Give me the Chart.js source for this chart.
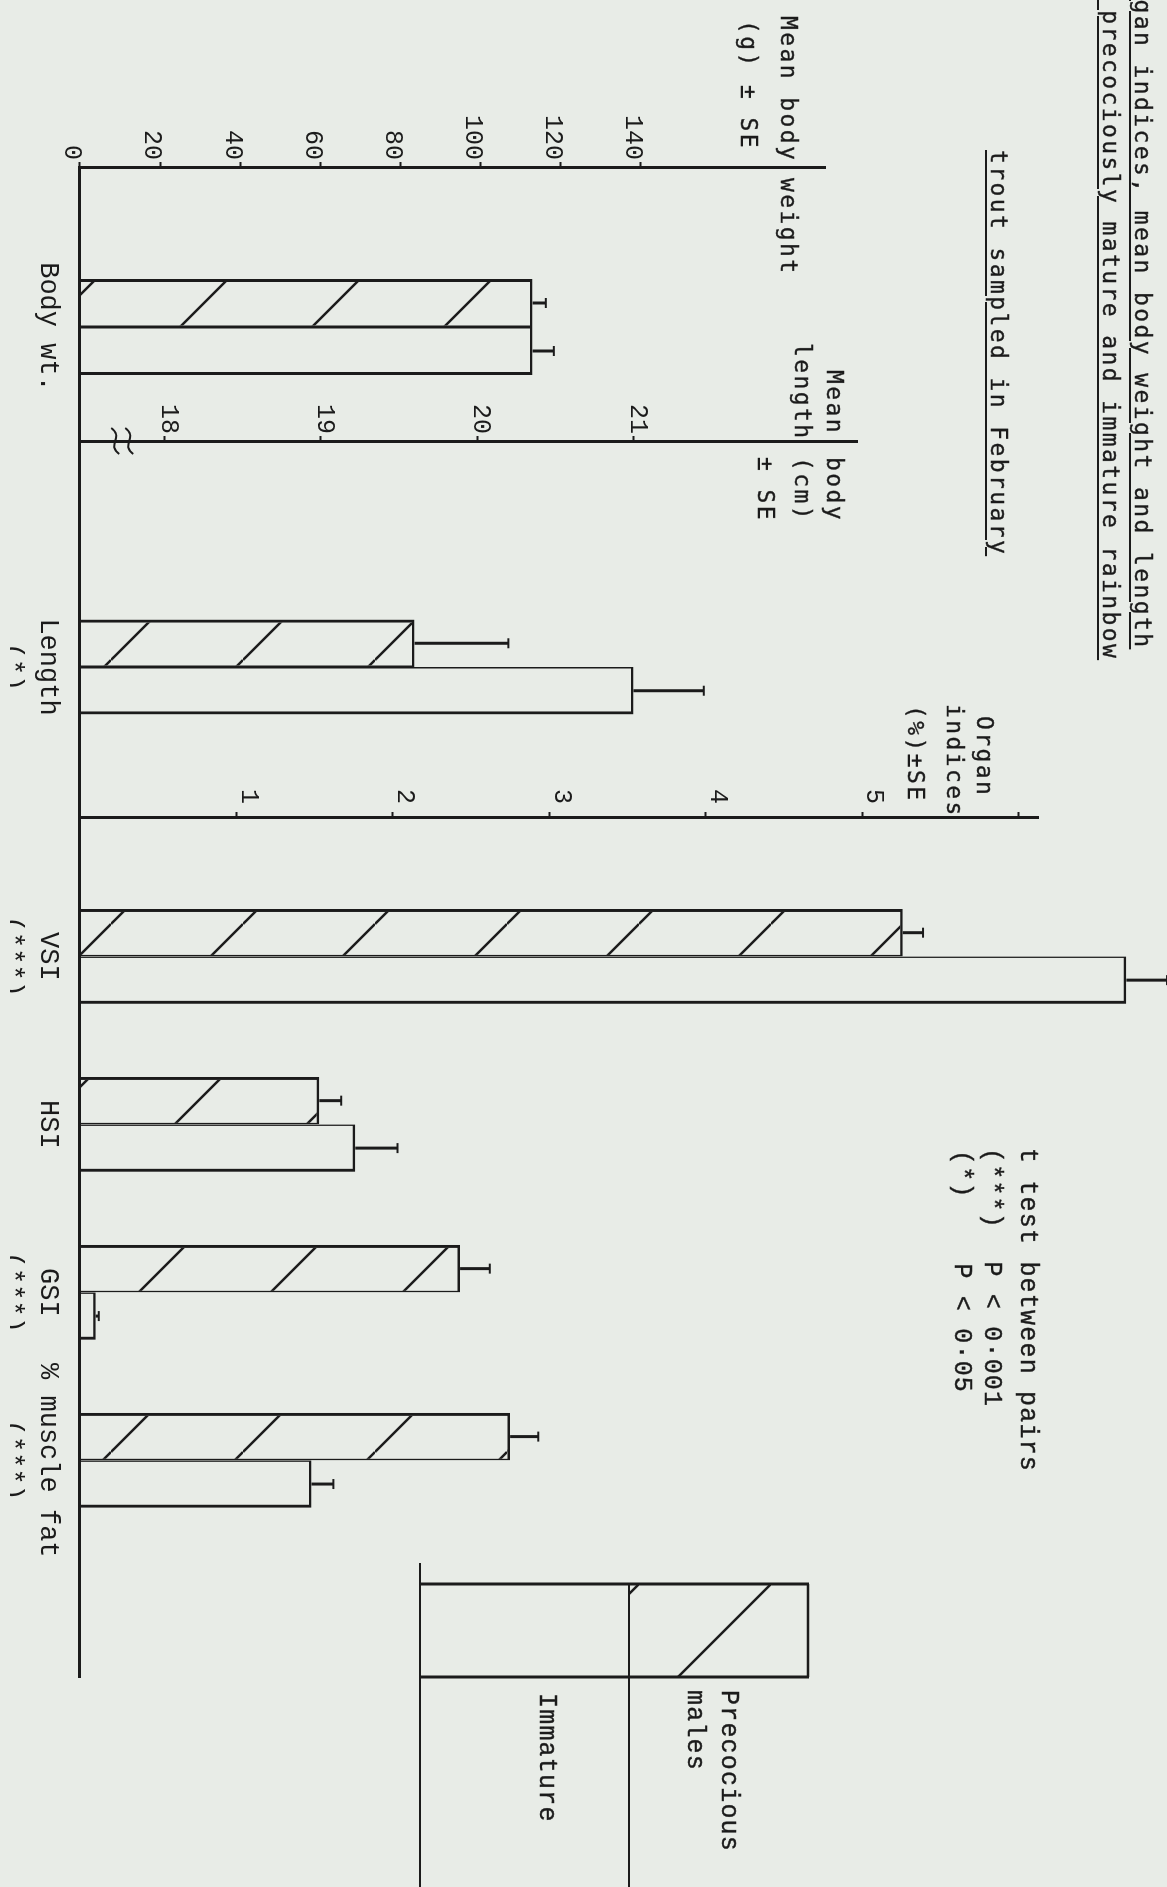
<!DOCTYPE html>
<html>
<head>
<meta charset="utf-8">
<script src="https://cdn.jsdelivr.net/npm/chart.js@4.4.1/dist/chart.umd.min.js"></script>
<style>
  html, body { margin: 0; background: #e8ece7; }
  #page { position: relative; width: 1167px; height: 1887px; overflow: hidden; background: #e8ece7; }
  /* the figure is typed sideways: build it upright, then turn it a quarter clockwise */
  #sheet { position: absolute; left: 0; top: 0; width: 1887px; height: 1167px;
           transform-origin: 0 0; transform: translate(1167px, 0) rotate(90deg); }
  #sheet canvas { position: absolute; left: 0; top: 0; }
  .t { position: absolute; white-space: pre; color: #1b1b1b; line-height: 30px; height: 30px; }
  .sans { font: 23px "DejaVu Sans Mono", monospace; letter-spacing: 2.4px; -webkit-text-stroke: 0.35px #1b1b1b; }
  .serif { font: 25px "Liberation Mono", monospace; letter-spacing: 1.2px; -webkit-text-stroke: 0.4px #1b1b1b; }
  .u { text-decoration: underline; text-decoration-thickness: 2px; text-underline-offset: 4px; }
</style>
</head>
<body>
<div id="page"><div id="sheet">
  <canvas id="weight" width="1887" height="1167"></canvas>
  <canvas id="length" width="1887" height="1167"></canvas>
  <canvas id="organ" width="1887" height="1167"></canvas>

  <div class="t sans u" style="left:-33px;top:11px">Organ indices, mean body weight and length</div>
  <div class="t sans u" style="left:-6px;top:43px"> precociously mature and immature rainbow</div>
  <div class="t sans u" style="left:150px;top:155px">trout sampled in February</div>

  <div class="t sans" style="left:16px;top:365px">Mean body</div>
  <div class="t sans" style="left:178px;top:365px">weight</div>
  <div class="t sans" style="left:20px;top:405px">(g) ± SE</div>

  <div class="t sans" style="left:370px;top:319px">Mean</div>
  <div class="t sans" style="left:457px;top:319px">body</div>
  <div class="t sans" style="left:343px;top:351px">length</div>
  <div class="t sans" style="left:457px;top:351px">(cm)</div>
  <div class="t sans" style="left:457px;top:388px">± SE</div>

  <div class="t sans" style="left:716px;top:169px">Organ</div>
  <div class="t sans" style="left:704px;top:199px">indices</div>
  <div class="t sans" style="left:705px;top:238px">(%)±SE</div>

  <div class="t serif" style="left:1148px;top:125px">t test between pairs</div>
  <div class="t serif" style="left:1148px;top:161px">(***)  P < 0·001</div>
  <div class="t serif" style="left:1150px;top:191px">(*)    P < 0·05</div>

  <div class="t serif" style="left:1690px;top:424px">Precocious</div>
  <div class="t serif" style="left:1690px;top:458px">males</div>
  <div class="t serif" style="left:1693px;top:606px">Immature</div>
</div></div>

<script>
const categories = ['Body wt.', 'Length', 'VSI', 'HSI', 'GSI', '% muscle fat']
const significance = ['', '(*)', '(***)', '', '(***)', '(***)']
const groups = ['Precocious males', 'Immature']
const precocious = [113, 19.6, 5.26, 1.53, 2.43, 2.75]
const precociousSE = [3.3, 0.6, 0.13, 0.14, 0.19, 0.18]
const immature = [113, 21.0, 6.69, 1.76, 0.1, 1.48]
const immatureSE = [5.3, 0.45, 0.26, 0.27, 0.02, 0.14]
const weightTicks = [0, 20, 40, 60, 80, 100, 120, 140]
const lengthTicks = [18, 19, 20, 21]
const organTicks = [1, 2, 3, 4, 5, 6]

const INK = '#1b1b1b'
const W = 1887, H = 1167
const BASE = 1087            // category axis line on the upright sheet

Chart.defaults.font.family = '"Liberation Mono", monospace'
Chart.defaults.font.size = 25
Chart.defaults.color = INK

// diagonal hatching for the precocious bars
const hatch = (() => {
  const s = 132
  const c = document.createElement('canvas')
  c.width = c.height = s
  const g = c.getContext('2d')
  g.strokeStyle = INK
  g.lineWidth = 2.5
  for (const k of [-1, 0, 1]) {
    g.beginPath()
    g.moveTo(k * s, 0)
    g.lineTo(k * s + s, s)
    g.stroke()
  }
  return g.createPattern(c, 'repeat')
})()

// one-sided SE whiskers
const errorBars = {
  id: 'errorBars',
  afterDatasetsDraw(chart) {
    const ctx = chart.ctx
    chart.data.datasets.forEach((ds, di) => {
      const meta = chart.getDatasetMeta(di)
      const scale = chart.scales[meta.yAxisID]
      meta.data.forEach((bar, i) => {
        const v = meta.controller.getParsed(i).y
        const end = scale.getPixelForValue(v + ds.errors[i])
        ctx.save()
        ctx.strokeStyle = INK
        ctx.lineWidth = 3
        ctx.beginPath()
        ctx.moveTo(bar.x, bar.y)
        ctx.lineTo(bar.x, end)
        ctx.stroke()
        ctx.lineWidth = 2
        ctx.beginPath()
        ctx.moveTo(bar.x - 5, end)
        ctx.lineTo(bar.x + 5, end)
        ctx.stroke()
        ctx.restore()
      })
    })
  }
}

// squiggle on the broken length axis
const axisBreak = {
  id: 'axisBreak',
  afterDraw(chart) {
    const y = chart.scales.y
    const x = chart.chartArea.left
    const mid = y.getPixelForValue((y.min + lengthTicks[0]) / 2)
    const ctx = chart.ctx
    ctx.save()
    ctx.strokeStyle = INK
    ctx.lineWidth = 2
    for (const d of [-7, 7]) {
      ctx.beginPath()
      ctx.moveTo(x - 13, mid + d + 4)
      ctx.bezierCurveTo(x - 4, mid + d - 9, x + 4, mid + d + 9, x + 13, mid + d - 4)
      ctx.stroke()
    }
    ctx.restore()
  }
}

// key box drawn from the dataset styles
const legendBox = {
  id: 'legendBox',
  afterDraw(chart) {
    const ctx = chart.ctx
    const pre = chart.data.datasets[0]
    const x0 = 1584, x1 = 1677, y0 = 359, y1 = 538, y2 = 747
    ctx.save()
    ctx.fillStyle = pre.backgroundColor
    ctx.fillRect(x0, y0, x1 - x0, y1 - y0)
    ctx.strokeStyle = INK
    const seg = (a, b, c, d, w) => {
      ctx.lineWidth = w
      ctx.beginPath()
      ctx.moveTo(a, b)
      ctx.lineTo(c, d)
      ctx.stroke()
    }
    seg(x0, y0, x1, y0, 2.5)
    seg(x0, y0 - 1, x0, y2 + 1, 3)
    seg(x1, y0 - 1, x1, y2 + 1, 3)
    seg(x0, y1, W, y1, 2)
    seg(1563, y2, W, y2, 2)
    ctx.restore()
  }
}

function tickLabel(k) {
  return significance[k] ? [categories[k], significance[k]] : categories[k]
}

function fitY(s) { s.width = 60; s.paddingTop = 0; s.paddingBottom = 0 }
function fitX(s) { s.height = 70; s.paddingLeft = 0; s.paddingRight = 0 }

function makePanel(id, p) {
  const points = (vals) => p.idx.map((k, i) => ({ x: i, y: vals[k] }))
  const xScale = p.linearX
    ? {
        type: 'linear', offset: false, min: p.xMin, max: p.xMax,
        afterBuildTicks: s => { s.ticks = p.idx.map((k, i) => ({ value: i })) },
        ticks: { callback: v => tickLabel(p.idx[v]) }
      }
    : { type: 'category', offset: true, ticks: { callback: (v, i) => tickLabel(p.idx[i]) } }
  xScale.grid = { display: false }
  xScale.border = { display: true, color: INK, width: 3 }
  Object.assign(xScale.ticks, { font: { size: 27, lineHeight: 1.333 }, padding: 6, maxRotation: 0, autoSkip: false })
  xScale.afterFit = fitX

  const common = {
    borderColor: INK,
    categoryPercentage: p.catPct,
    barPercentage: 1,
    base: p.min,
    clip: false,
  }

  return new Chart(document.getElementById(id), {
    type: 'bar',
    data: {
      labels: p.idx.map(k => categories[k]),
      datasets: [
        Object.assign({
          label: groups[0],
          data: points(precocious),
          errors: p.idx.map(k => precociousSE[k]),
          backgroundColor: hatch,
          borderWidth: { left: 3, right: 1.5, top: 2.5, bottom: 0 },
        }, common),
        Object.assign({
          label: groups[1],
          data: points(immature),
          errors: p.idx.map(k => immatureSE[k]),
          backgroundColor: 'rgba(0,0,0,0)',
          borderWidth: { left: 1.5, right: 3, top: 2.5, bottom: 0 },
        }, common)
      ]
    },
    options: {
      responsive: false,
      animation: false,
      devicePixelRatio: 1,
      layout: {
        padding: { left: p.left - 60, right: W - p.right, top: p.top, bottom: H - BASE - 70 }
      },
      plugins: { legend: { display: false }, tooltip: { enabled: false } },
      scales: {
        x: xScale,
        y: {
          type: 'linear',
          min: p.min,
          max: p.max,
          afterBuildTicks: s => { s.ticks = p.ticks.map(v => ({ value: v })) },
          grid: { display: true, drawOnChartArea: false, drawTicks: true, tickLength: 5, tickWidth: 2, tickColor: INK },
          border: { display: true, color: INK, width: 3 },
          ticks: {
            padding: p.tickPad,
            labelOffset: p.labelOffset,
            callback: v => (v === 6 ? '' : String(v)),
          },
          afterFit: fitY,
        }
      }
    },
    plugins: [errorBars].concat(p.plugins || [])
  })
}

makePanel('weight', {
  idx: [0], left: 167, right: 487, top: 342,
  min: 0, max: 186, ticks: weightTicks, tickPad: 2, labelOffset: 8, catPct: 0.3,
})

makePanel('length', {
  idx: [1], left: 441, right: 893, top: 310,
  min: 17.46, max: 22.43, ticks: lengthTicks, tickPad: 2, labelOffset: -4, catPct: 0.21,
  plugins: [axisBreak],
})

makePanel('organ', {
  idx: [2, 3, 4, 5], left: 817, right: 1677, top: 129,
  min: 0, max: 6.125, ticks: organTicks, tickPad: 8, labelOffset: -12, catPct: 0.565,
  linearX: true, xMin: -0.83, xMax: 4.29,
  plugins: [legendBox],
})
</script>
</body>
</html>
